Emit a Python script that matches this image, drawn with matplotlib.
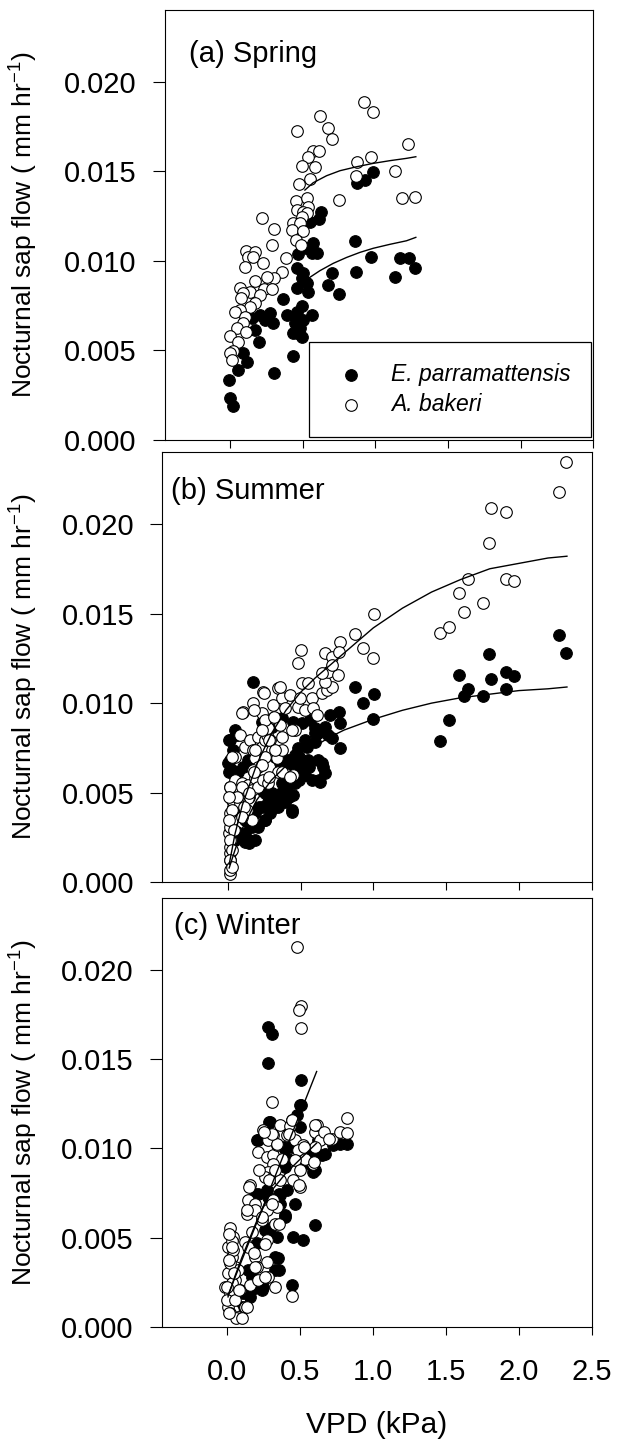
import matplotlib
matplotlib.use("Agg")
import matplotlib.pyplot as plt

plt.rcParams['font.family'] = ['Liberation Sans', 'DejaVu Sans']
plt.rcParams['mathtext.fontset'] = 'custom'
plt.rcParams['mathtext.rm'] = 'Liberation Sans'
plt.rcParams['mathtext.it'] = 'Liberation Sans:italic'

# ---------------- data (VPD kPa, nocturnal sap flow mm/hr) ----------------
panel_titles = ["(a) Spring", "(b) Summer", "(c) Winter"]
species = ["E. parramattensis", "A. bakeri"]
x_ticks = [0.0, 0.5, 1.0, 1.5, 2.0, 2.5]
y_ticks = [0.000, 0.005, 0.010, 0.015, 0.020]

spring_ep = [(0.986, 0.01497), (0.928, 0.01451), (0.871, 0.01432), (0.630, 0.01270), (0.614, 0.01233),
             (0.550, 0.01218), (0.860, 0.01110), (0.573, 0.01097), (0.596, 0.01045), (0.523, 0.01070),
             (0.470, 0.01036), (0.562, 0.01042), (0.974, 0.01023), (1.169, 0.01014), (1.233, 0.01014),
             (1.272, 0.00958), (1.135, 0.00911), (0.867, 0.00939), (0.459, 0.00958), (0.504, 0.00930),
             (0.493, 0.00902), (0.699, 0.00930), (0.676, 0.00865), (0.752, 0.00815), (0.459, 0.00846),
             (0.539, 0.00828), (0.527, 0.00874), (0.362, 0.00787), (0.493, 0.00748), (0.459, 0.00716),
             (0.390, 0.00698), (0.470, 0.00679), (0.562, 0.00698), (0.504, 0.00670), (0.447, 0.00651),
             (0.481, 0.00623), (0.459, 0.00595), (0.493, 0.00577), (0.436, 0.00595), (0.149, 0.00679),
             (0.206, 0.00698), (0.241, 0.00670), (0.275, 0.00707), (0.298, 0.00651), (0.264, 0.00679),
             (0.172, 0.00614), (0.202, 0.00549), (0.431, 0.00469), (0.303, 0.00372), (0.092, 0.00484),
             (0.115, 0.00437), (0.057, 0.00391), (-0.005, 0.00335), (0.000, 0.00233), (0.023, 0.00190)]

spring_ab = [(0.922, 0.01888), (0.986, 0.01832), (0.619, 0.01808), (0.676, 0.01743), (0.699, 0.01678),
             (0.459, 0.01726), (1.226, 0.01652), (0.569, 0.01615), (0.614, 0.01615), (0.539, 0.01577),
             (0.497, 0.01531), (0.585, 0.01522), (0.550, 0.01456), (0.477, 0.01429), (0.974, 0.01577),
             (0.871, 0.01549), (1.135, 0.01503), (0.867, 0.01475), (0.752, 0.01339), (1.181, 0.01352),
             (1.272, 0.01358), (0.454, 0.01334), (0.527, 0.01349), (0.539, 0.01302), (0.459, 0.01283),
             (0.504, 0.01274), (0.527, 0.01265), (0.497, 0.01246), (0.431, 0.01209), (0.481, 0.01213),
             (0.424, 0.01172), (0.504, 0.01166), (0.454, 0.01116), (0.486, 0.01088), (0.218, 0.01237),
             (0.303, 0.01179), (0.293, 0.01088), (0.110, 0.01057), (0.172, 0.01047), (0.126, 0.01019),
             (0.160, 0.01023), (0.229, 0.00986), (0.103, 0.00967), (0.383, 0.01017), (0.360, 0.00939),
             (0.305, 0.00902), (0.252, 0.00908), (0.172, 0.00887), (0.236, 0.00841), (0.069, 0.00846),
             (0.138, 0.00828), (0.087, 0.00818), (0.206, 0.00809), (0.287, 0.00841), (0.073, 0.00791),
             (0.172, 0.00763), (0.138, 0.00744), (0.069, 0.00725), (0.034, 0.00716), (0.103, 0.00688),
             (0.092, 0.00651), (0.046, 0.00623), (0.110, 0.00605), (0.000, 0.00580), (0.057, 0.00545),
             (0.023, 0.00497), (0.000, 0.00484), (0.011, 0.00446)]

summer_ep = [(2.278, 0.01380), (2.324, 0.01278), (1.793, 0.01274), (1.591, 0.01157), (1.809, 0.01133),
             (1.909, 0.01172), (1.969, 0.01153), (1.653, 0.01077), (1.625, 0.01040), (1.751, 0.01040),
             (1.909, 0.01077), (1.520, 0.00906), (1.458, 0.00789), (0.875, 0.01088), (1.007, 0.01051),
             (0.927, 0.00999), (1.000, 0.00910), (0.767, 0.00949), (0.772, 0.00887), (0.772, 0.00748),
             (0.176, 0.01120), (0.016, 0.00794), (0.039, 0.00739), (0.005, 0.00664), (0.027, 0.00627),
             (0.073, 0.00618), (0.108, 0.00646), (0.142, 0.00683), (0.050, 0.00850), (0.234, 0.00897),
             (0.302, 0.00869), (0.371, 0.00915), (0.451, 0.00897), (0.508, 0.00887), (0.565, 0.00906),
             (0.600, 0.00860), (0.623, 0.00832), (0.691, 0.00822), (0.714, 0.00804), (0.703, 0.00934),
             (0.668, 0.00869), (0.600, 0.00785), (0.543, 0.00757), (0.485, 0.00748), (0.462, 0.00711),
             (0.417, 0.00683), (0.359, 0.00664), (0.325, 0.00701), (0.497, 0.00664), (0.554, 0.00683),
             (0.623, 0.00683), (0.657, 0.00646), (0.668, 0.00608), (0.634, 0.00562), (0.577, 0.00571),
             (0.531, 0.00599), (0.485, 0.00636), (0.462, 0.00553), (0.405, 0.00534), (0.371, 0.00506),
             (0.325, 0.00478), (0.279, 0.00450), (0.234, 0.00422), (0.188, 0.00385), (0.142, 0.00339),
             (0.440, 0.00394), (0.451, 0.00487), (0.394, 0.00450), (0.348, 0.00422), (0.291, 0.00385),
             (0.256, 0.00348), (0.211, 0.00311), (0.165, 0.00311), (0.142, 0.00236), (0.119, 0.00227),
             (0.050, 0.00236), (0.062, 0.00283), (0.462, 0.00636), (0.256, 0.00497),
             (0.007, 0.00794), (0.064, 0.00822), (0.018, 0.00683), (0.007, 0.00618), (0.064, 0.00571),
             (0.087, 0.00515), (0.144, 0.00478), (0.213, 0.00422), (0.259, 0.00348), (0.167, 0.00329),
             (0.121, 0.00273), (0.190, 0.00236), (0.144, 0.00218), (0.098, 0.00255), (0.327, 0.00422),
             (0.419, 0.00478), (0.442, 0.00404), (0.487, 0.00571), (0.557, 0.00646), (0.625, 0.00571),
             (0.648, 0.00664), (0.602, 0.00832), (0.533, 0.00794), (0.487, 0.00701), (0.419, 0.00664),
             (0.465, 0.00608), (0.373, 0.00552), (0.304, 0.00497), (0.236, 0.00515), (0.167, 0.00385),
             (0.052, 0.00385), (0.030, 0.00459), (0.121, 0.00348)]

summer_ab = [(2.324, 0.02344), (2.278, 0.02177), (1.809, 0.02087), (1.912, 0.02069), (1.793, 0.01896),
             (1.653, 0.01693), (1.591, 0.01613), (1.909, 0.01693), (1.969, 0.01682), (1.751, 0.01557),
             (1.625, 0.01507), (1.458, 0.01393), (1.520, 0.01427), (1.007, 0.01496), (0.875, 0.01384),
             (0.927, 0.01306), (1.000, 0.01254), (0.772, 0.01343), (0.504, 0.01297), (0.668, 0.01278),
             (0.719, 0.01256), (0.765, 0.01284),
             (0.016, 0.00045), (0.016, 0.00069), (0.016, 0.00125), (0.016, 0.00162), (0.016, 0.00199),
             (0.023, 0.00236), (0.009, 0.00273), (0.016, 0.00311), (0.027, 0.00348), (0.016, 0.00385),
             (0.039, 0.00422), (0.027, 0.00460), (0.050, 0.00497), (0.016, 0.00534), (0.073, 0.00534),
             (0.050, 0.00571), (0.096, 0.00553), (0.142, 0.00543), (0.119, 0.00497), (0.165, 0.00515),
             (0.142, 0.00469), (0.085, 0.00441), (0.130, 0.00404), (0.165, 0.00348), (0.050, 0.00701),
             (0.085, 0.00822), (0.119, 0.00757), (0.153, 0.00794), (0.176, 0.00739), (0.188, 0.00692),
             (0.211, 0.00813), (0.234, 0.00757), (0.256, 0.00794), (0.268, 0.00822), (0.291, 0.00794),
             (0.302, 0.00739), (0.337, 0.00692), (0.371, 0.00739), (0.211, 0.00646), (0.176, 0.00627),
             (0.188, 0.00580), (0.211, 0.00534), (0.245, 0.00571), (0.279, 0.00553), (0.108, 0.00953),
             (0.176, 0.00999), (0.234, 0.00943), (0.245, 0.01064), (0.314, 0.00990), (0.348, 0.01083),
             (0.371, 0.01027), (0.394, 0.00971), (0.428, 0.01046), (0.462, 0.00850), (0.485, 0.00980),
             (0.497, 0.01027), (0.508, 0.01111), (0.554, 0.01111), (0.577, 0.01027), (0.531, 0.00962),
             (0.588, 0.00971), (0.611, 0.00934), (0.646, 0.01055), (0.680, 0.01073), (0.714, 0.01092),
             (0.668, 0.01120), (0.691, 0.01176), (0.646, 0.01167), (0.760, 0.01157), (0.714, 0.01213),
             (0.485, 0.01222), (0.428, 0.00590), (0.451, 0.00599), (0.348, 0.00618), (0.314, 0.00915),
             (0.359, 0.00878), (0.279, 0.00860), (0.256, 0.00906),
             (0.098, 0.00943), (0.178, 0.00962), (0.247, 0.01055), (0.361, 0.01092), (0.236, 0.00850),
             (0.315, 0.00924), (0.281, 0.00794), (0.373, 0.00813), (0.442, 0.00850), (0.190, 0.00738),
             (0.259, 0.00701), (0.327, 0.00738), (0.236, 0.00655), (0.178, 0.00618), (0.281, 0.00590),
             (0.373, 0.00618), (0.430, 0.00590), (0.030, 0.00701), (0.018, 0.00534), (0.098, 0.00534),
             (0.144, 0.00497), (0.064, 0.00478), (0.007, 0.00478), (0.030, 0.00404), (0.110, 0.00422),
             (0.007, 0.00348), (0.041, 0.00292), (0.018, 0.00236), (0.030, 0.00180), (0.018, 0.00125),
             (0.030, 0.00087), (0.098, 0.00366)]

winter_ep = [(0.281, 0.01678), (0.309, 0.01641),
             (0.281, 0.01477), (0.505, 0.01384), (0.505, 0.01241), (0.476, 0.01185), (0.293, 0.01148),
             (0.499, 0.01120), (0.213, 0.01046), (0.441, 0.01008), (0.396, 0.00999), (0.624, 0.01046),
             (0.773, 0.01027), (0.819, 0.01027), (0.727, 0.01018), (0.670, 0.00971), (0.590, 0.00869),
             (0.533, 0.00915), (0.419, 0.00943), (0.396, 0.00897), (0.407, 0.00767), (0.213, 0.00748),
             (0.270, 0.00767), (0.281, 0.00729), (0.361, 0.00692), (0.396, 0.00627), (0.464, 0.00692),
             (0.293, 0.00553), (0.258, 0.00543), (0.339, 0.00506), (0.453, 0.00506), (0.522, 0.00487),
             (0.602, 0.00571), (0.201, 0.00469), (0.327, 0.00320), (0.350, 0.00385), (0.144, 0.00320),
             (0.190, 0.00218), (0.247, 0.00227), (0.441, 0.00236), (0.110, 0.00190), (0.156, 0.00171),
             (0.030, 0.00134), (0.224, 0.00227), (0.133, 0.00190), (0.361, 0.00739),
             (0.284, 0.01148), (0.204, 0.01045), (0.387, 0.01008), (0.501, 0.01240), (0.581, 0.00971),
             (0.650, 0.00962), (0.604, 0.00878), (0.192, 0.00748), (0.353, 0.00748), (0.399, 0.00617),
             (0.284, 0.00524), (0.330, 0.00394), (0.353, 0.00320), (0.170, 0.00282), (0.238, 0.00208),
             (0.147, 0.00189), (0.100, 0.00115)]

winter_ab = [(0.476, 0.02128), (0.505, 0.01799), (0.492, 0.01775), (0.505, 0.01674),
             (0.309, 0.01260), (0.441, 0.01157), (0.361, 0.01129), (0.430, 0.01124), (0.247, 0.01101),
             (0.316, 0.01073), (0.407, 0.01073), (0.281, 0.01046), (0.213, 0.00980), (0.270, 0.00953),
             (0.316, 0.00962), (0.339, 0.01018), (0.464, 0.01046), (0.522, 0.01018), (0.487, 0.00990),
             (0.602, 0.01092), (0.613, 0.01129), (0.636, 0.01046), (0.602, 0.01008), (0.716, 0.01055),
             (0.773, 0.01092), (0.819, 0.01172), (0.819, 0.01087), (0.590, 0.00915), (0.533, 0.00943),
             (0.464, 0.00934), (0.373, 0.00943), (0.316, 0.00915), (0.281, 0.00869), (0.258, 0.00841),
             (0.316, 0.00841), (0.453, 0.00822), (0.499, 0.00785), (0.361, 0.00822), (0.156, 0.00794),
             (0.144, 0.00711), (0.190, 0.00692), (0.133, 0.00636), (0.190, 0.00655), (0.316, 0.00711),
             (0.339, 0.00673), (0.270, 0.00655), (0.236, 0.00599), (0.327, 0.00580), (0.270, 0.00487),
             (0.167, 0.00534), (0.121, 0.00478), (0.144, 0.00450), (0.018, 0.00553), (0.041, 0.00506),
             (0.007, 0.00450), (0.030, 0.00394), (0.053, 0.00339), (0.007, 0.00301), (-0.016, 0.00227),
             (0.018, 0.00190), (0.041, 0.00097), (0.007, 0.00115), (0.075, 0.00060), (0.121, 0.00115),
             (0.087, 0.00208), (0.156, 0.00236), (0.213, 0.00264), (0.281, 0.00283), (0.270, 0.00367),
             (0.190, 0.00394), (0.327, 0.00227), (0.446, 0.00175), (0.201, 0.00339), (0.075, 0.00320),
             (-0.005, 0.00153), (0.053, 0.00264), (0.030, 0.00480), (0.041, 0.00430), (0.018, 0.00360),
             (0.030, 0.00250), (0.020, 0.00080), (0.060, 0.00050),
             (0.009, 0.00524), (0.032, 0.00450), (0.009, 0.00375), (0.044, 0.00301), (0.000, 0.00227),
             (0.055, 0.00152), (0.009, 0.00078), (0.100, 0.00050), (0.135, 0.00115), (0.078, 0.00208),
             (0.192, 0.00338), (0.261, 0.00282), (0.181, 0.00413), (0.261, 0.00468), (0.135, 0.00654),
             (0.147, 0.00785), (0.215, 0.00878), (0.284, 0.00822), (0.330, 0.00878), (0.307, 0.00692),
             (0.353, 0.00580), (0.238, 0.00617), (0.341, 0.01027), (0.307, 0.01083), (0.250, 0.01092),
             (0.421, 0.01083), (0.444, 0.01157), (0.524, 0.01008), (0.604, 0.01129), (0.661, 0.01092),
             (0.696, 0.01055), (0.593, 0.00925), (0.490, 0.00794), (0.501, 0.00878)]

# fitted curves
spring_ep_fit = [(0.539, 0.00902), (0.619, 0.00945), (0.711, 0.00986), (0.803, 0.01019), (0.894, 0.01047),
                 (0.986, 0.01070), (1.100, 0.01092), (1.215, 0.01112), (1.279, 0.01131)]
spring_ab_fit = [(0.516, 0.01395), (0.573, 0.01436), (0.665, 0.01475), (0.757, 0.01503), (0.871, 0.01525),
                 (0.986, 0.01544), (1.100, 0.01559), (1.215, 0.01572), (1.279, 0.01581)]
summer_ep_fit = [(0.01, 0.0008), (0.05, 0.0018), (0.1, 0.0030), (0.2, 0.0046), (0.3, 0.0057), (0.4, 0.0065),
                 (0.5, 0.0071), (0.6, 0.0076), (0.7, 0.0081), (0.8, 0.0085), (1.0, 0.0091), (1.2, 0.0096),
                 (1.4, 0.0100), (1.6, 0.0103), (1.8, 0.0105), (2.0, 0.0107), (2.2, 0.0108), (2.33, 0.0109)]
summer_ab_fit = [(0.01, 0.0010), (0.05, 0.0027), (0.1, 0.0043), (0.2, 0.0066), (0.3, 0.0083), (0.4, 0.0096),
                 (0.5, 0.0106), (0.6, 0.0114), (0.7, 0.0121), (0.8, 0.0128), (1.0, 0.0142), (1.2, 0.0153),
                 (1.4, 0.0162), (1.6, 0.0169), (1.8, 0.0175), (2.0, 0.0178), (2.2, 0.0181), (2.33, 0.0182)]
winter_ep_fit = [(0.005, 0.0018), (0.613, 0.0143)]
winter_ab_fit = [(0.005, 0.0017), (0.05, 0.0028), (0.1, 0.0039), (0.2, 0.0059), (0.3, 0.0076),
                 (0.4, 0.0086), (0.5, 0.0094), (0.613, 0.0103)]

panels = [(spring_ep, spring_ab, spring_ep_fit, spring_ab_fit),
          (summer_ep, summer_ab, summer_ep_fit, summer_ab_fit),
          (winter_ep, winter_ab, winter_ep_fit, winter_ab_fit)]

# ---------------- layout ----------------
W, H = 619, 1445
fig = plt.figure(figsize=(W / 100, H / 100), dpi=100)

# (left, right, top, bottom) in pixels
boxes = [(164.5, 593.3, 10.0, 440.0),
         (162.2, 591.7, 452.3, 882.3),
         (161.7, 591.7, 898.0, 1327.3)]
title_pos = [(0.056, 0.930), (0.021, 0.942), (0.029, 0.968)]

axes = []
for i, (l, r, t, b) in enumerate(boxes):
    ax = fig.add_axes([l / W, 1 - b / H, (r - l) / W, (b - t) / H])
    axes.append(ax)
    ep, ab, ep_fit, ab_fit = panels[i]
    ax.scatter([p[0] for p in ep], [p[1] for p in ep], s=70, facecolor='black',
               edgecolor='black', linewidths=0.8, zorder=2, label=species[0])
    ax.scatter([p[0] for p in ab], [p[1] for p in ab], s=70, facecolor='white',
               edgecolor='black', linewidths=0.8, zorder=2.1, label=species[1])
    ax.plot([p[0] for p in ep_fit], [p[1] for p in ep_fit], color='black', lw=1.0, zorder=3)
    ax.plot([p[0] for p in ab_fit], [p[1] for p in ab_fit], color='black', lw=1.0, zorder=3)

    ax.set_xlim(-0.45, 2.5)
    ax.set_ylim(0, 0.024)
    ax.set_xticks(x_ticks)
    ax.set_yticks(y_ticks)
    ax.set_yticklabels([f"{v:.3f}" for v in y_ticks])
    ax.tick_params(axis='y', direction='out', length=8.8, width=0.8, pad=11.5,
                   labelsize=21, color='black')
    ax.tick_params(axis='x', direction='out', length=5.5, width=0.8, pad=16.5,
                   labelsize=21, color='black')
    if i < 2:
        ax.tick_params(axis='x', labelbottom=False)
    else:
        ax.set_xticklabels([f"{v:.1f}" for v in x_ticks])
    for sp in ax.spines.values():
        sp.set_linewidth(0.8)
        sp.set_color('black')

    ax.set_ylabel("Nocturnal sap flow ( mm hr$^{-1}$)", fontsize=19)
    ax.yaxis.set_label_coords((40.5 - l) / (r - l), 0.5)

    ax.text(title_pos[i][0], title_pos[i][1], panel_titles[i], transform=ax.transAxes,
            ha='left', va='top', fontsize=21)

axes[2].set_xlabel("VPD (kPa)", fontsize=21.5)
l, r, t, b = boxes[2]
axes[2].xaxis.set_label_coords(0.5, (b - 1433.3) / (b - t))
axes[2].xaxis.label.set_verticalalignment('baseline')

leg = axes[0].legend(loc='lower right', bbox_to_anchor=(0.995, 0.008), borderaxespad=0,
                     prop={'family': 'Liberation Sans', 'style': 'italic', 'size': 16.5},
                     scatterpoints=1, frameon=True, fancybox=False, framealpha=1,
                     edgecolor='black', borderpad=0.9, handlelength=1.85,
                     handletextpad=0.83, labelspacing=0.3)
leg.get_frame().set_linewidth(0.9)

fig.savefig("out.png", dpi=100)
